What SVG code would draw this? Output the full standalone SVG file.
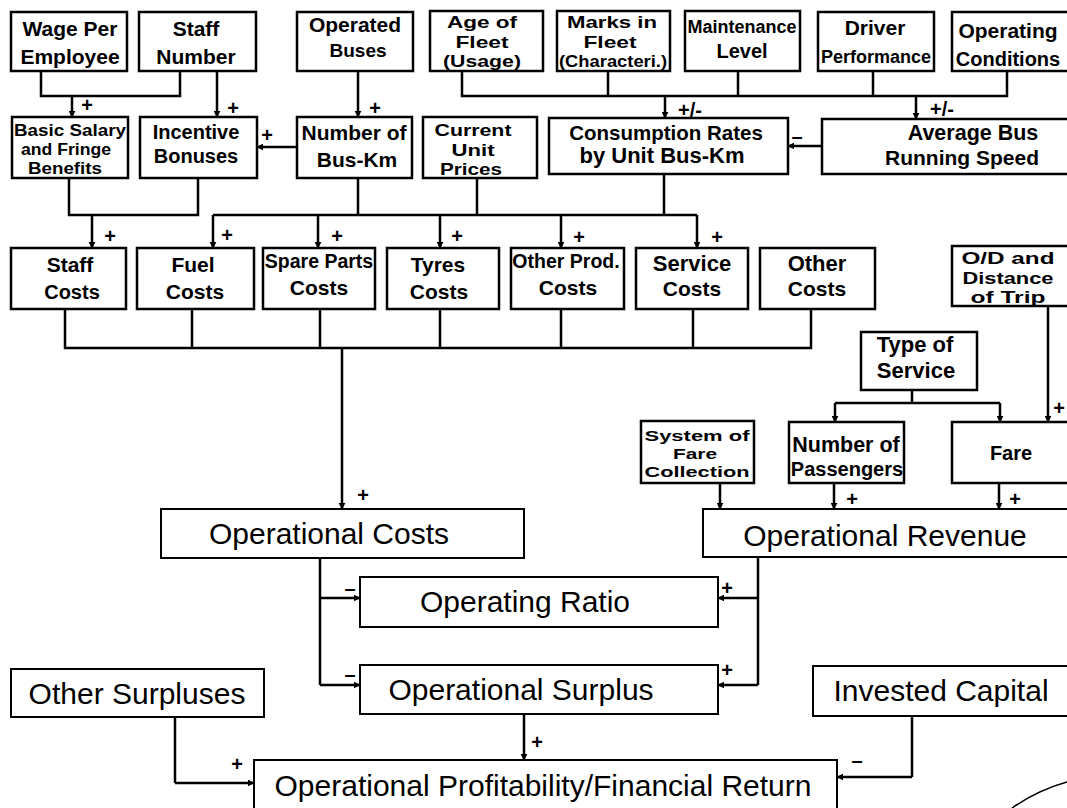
<svg xmlns="http://www.w3.org/2000/svg" width="1067" height="808" viewBox="0 0 1067 808">
<style>
.b{fill:#fff;stroke:#000;stroke-width:2.5}
.B{fill:#fff;stroke:#000;stroke-width:2}
.t{font-family:"Liberation Sans",Arial,sans-serif;font-weight:bold;text-anchor:middle;fill:#000}
.L{font-family:"Liberation Sans",Arial,sans-serif;font-weight:normal;text-anchor:middle;fill:#000;font-size:30px}
.c{fill:none;stroke:#000;stroke-width:2.5}
.a{fill:none;stroke:#000;stroke-width:2.5;marker-end:url(#ah)}
.s{font-family:"Liberation Sans",Arial,sans-serif;font-weight:bold;text-anchor:middle;fill:#000;font-size:20px}
</style>
<defs>
<marker id="ah" viewBox="0 0 10 10" refX="9" refY="5" markerWidth="7" markerHeight="7" markerUnits="userSpaceOnUse" orient="auto"><path d="M0,0 L10,5 L0,10 z" fill="#000"/></marker>
</defs>
<rect width="1067" height="808" fill="#fff"/>

<g id="connectors">
<path class="c" d="M41,71 V96 H180 V71"/>
<path class="a" d="M72,96 V117"/>
<path class="a" d="M217,71 V117"/>
<path class="a" d="M358,71 V117"/>
<path class="c" d="M462,71 V96 H1007 V71 M608,71 V96 M738,71 V96 M873,71 V96"/>
<path class="a" d="M665,96 V118"/>
<path class="a" d="M916,96 V119"/>
<path class="a" d="M297,147 H257"/>
<path class="a" d="M822,146 H788"/>
<path class="c" d="M69,178 V215 H198 V178"/>
<path class="a" d="M92,215 V248"/>
<path class="c" d="M358,178 V215 M477,178 V215 M664,174 V215 M213,215 H697"/>
<path class="a" d="M213,215 V248"/>
<path class="a" d="M318,215 V248"/>
<path class="a" d="M440,215 V248"/>
<path class="a" d="M561,215 V248"/>
<path class="a" d="M697,215 V248"/>
<path class="c" d="M65,309 V348 H811 V309 M192,309 V348 M320,309 V348 M440,309 V348 M561,309 V348 M693,309 V348"/>
<path class="a" d="M342,348 V509"/>
<path class="a" d="M1048,306 V422"/>
<path class="c" d="M912,390 V403 M835,403 H1000"/>
<path class="a" d="M835,403 V422"/>
<path class="a" d="M1000,403 V422"/>
<path class="a" d="M720,483 V509"/>
<path class="a" d="M834,483 V509"/>
<path class="a" d="M999,483 V509"/>
<path class="c" d="M320,558 V685"/>
<path class="a" d="M320,598 H360"/>
<path class="a" d="M320,685 H360"/>
<path class="c" d="M758,557 V685"/>
<path class="a" d="M758,598 H718"/>
<path class="a" d="M758,685 H718"/>
<path class="c" d="M175,717 V783"/>
<path class="a" d="M175,783 H254"/>
<path class="a" d="M524,714 V760"/>
<path class="c" d="M912,716 V777"/>
<path class="a" d="M912,777 H837"/>
<path d="M1012,808 Q1038,790 1067,782" fill="none" stroke="#000" stroke-width="1.5"/>
</g>

<g id="labels">
<text class="s" x="87" y="112">+</text>
<text class="s" x="233" y="115">+</text>
<text class="s" x="375" y="115">+</text>
<text class="s" x="690" y="117" font-size="16">+/-</text>
<text class="s" x="942" y="116" font-size="16">+/-</text>
<text class="s" x="267" y="142">+</text>
<text class="s" x="797" y="143">–</text>
<text class="s" x="110" y="243">+</text>
<text class="s" x="227" y="242">+</text>
<text class="s" x="337" y="243">+</text>
<text class="s" x="457" y="243">+</text>
<text class="s" x="579" y="244">+</text>
<text class="s" x="717" y="244">+</text>
<text class="s" x="363" y="502">+</text>
<text class="s" x="1059" y="415">+</text>
<text class="s" x="852" y="506">+</text>
<text class="s" x="1015" y="506">+</text>
<text class="s" x="350" y="595">–</text>
<text class="s" x="727" y="595">+</text>
<text class="s" x="350" y="681">–</text>
<text class="s" x="727" y="677">+</text>
<text class="s" x="537" y="749">+</text>
<text class="s" x="237" y="771">+</text>
<text class="s" x="857" y="767">–</text>
</g>

<g id="n-wage"><rect class="b" x="11" y="12" width="116" height="59"/>
<text class="t" x="70" y="36" font-size="21">Wage Per</text><text class="t" x="70" y="64" font-size="21">Employee</text></g>
<g id="n-staff"><rect class="b" x="139" y="12" width="117" height="59"/>
<text class="t" x="196" y="36" font-size="21">Staff</text><text class="t" x="196" y="64" font-size="21">Number</text></g>
<g id="n-operated"><rect class="b" x="297" y="12" width="116" height="59"/>
<text class="t" x="355" y="32" font-size="21">Operated</text><text class="t" x="358" y="57" font-size="19">Buses</text></g>
<g id="n-age"><rect class="b" x="430" y="11" width="113" height="60"/>
<text class="t" x="482" y="28" font-size="17" textLength="70" lengthAdjust="spacingAndGlyphs">Age of</text><text class="t" x="482" y="48" font-size="17" textLength="53" lengthAdjust="spacingAndGlyphs">Fleet</text><text class="t" x="482" y="67" font-size="17" textLength="78" lengthAdjust="spacingAndGlyphs">(Usage)</text></g>
<g id="n-marks"><rect class="b" x="557" y="11" width="113" height="60"/>
<text class="t" x="612" y="28" font-size="17" textLength="90" lengthAdjust="spacingAndGlyphs">Marks in</text><text class="t" x="610" y="48" font-size="17" textLength="53" lengthAdjust="spacingAndGlyphs">Fleet</text><text class="t" x="613" y="67" font-size="16" textLength="108" lengthAdjust="spacingAndGlyphs">(Characteri.)</text></g>
<g id="n-maint"><rect class="b" x="685" y="11" width="115" height="60"/>
<text class="t" x="742" y="33" font-size="18">Maintenance</text><text class="t" x="742" y="58" font-size="20">Level</text></g>
<g id="n-driver"><rect class="b" x="818" y="12" width="116" height="59"/>
<text class="t" x="875" y="35" font-size="21">Driver</text><text class="t" x="876" y="63" font-size="18">Performance</text></g>
<g id="n-opcond"><rect class="b" x="952" y="12" width="125" height="59"/>
<text class="t" x="1008" y="38" font-size="21">Operating</text><text class="t" x="1008" y="66" font-size="20">Conditions</text></g>

<g id="n-basic"><rect class="b" x="12" y="117" width="116" height="61"/>
<text class="t" x="70" y="136" font-size="16" textLength="112" lengthAdjust="spacingAndGlyphs">Basic Salary</text><text class="t" x="66" y="155" font-size="16" textLength="90" lengthAdjust="spacingAndGlyphs">and Fringe</text><text class="t" x="65" y="174" font-size="16" textLength="74" lengthAdjust="spacingAndGlyphs">Benefits</text></g>
<g id="n-incentive"><rect class="b" x="140" y="117" width="117" height="61"/>
<text class="t" x="196" y="139" font-size="20">Incentive</text><text class="t" x="196" y="163" font-size="20">Bonuses</text></g>
<g id="n-buskm"><rect class="b" x="297" y="117" width="115" height="61"/>
<text class="t" x="354" y="140" font-size="21">Number of</text><text class="t" x="357" y="167" font-size="21">Bus-Km</text></g>
<g id="n-prices"><rect class="b" x="423" y="117" width="114" height="61"/>
<text class="t" x="473" y="136" font-size="17" textLength="77" lengthAdjust="spacingAndGlyphs">Current</text><text class="t" x="473" y="156" font-size="17" textLength="43" lengthAdjust="spacingAndGlyphs">Unit</text><text class="t" x="471" y="175" font-size="17" textLength="62" lengthAdjust="spacingAndGlyphs">Prices</text></g>
<g id="n-consumption"><rect class="b" x="549" y="118" width="239" height="56"/>
<text class="t" x="666" y="140" font-size="20.5">Consumption Rates</text><text class="t" x="662" y="163" font-size="22">by Unit Bus-Km</text></g>
<g id="n-speed"><rect class="b" x="822" y="119" width="255" height="55"/>
<text class="t" x="973" y="140" font-size="21.5">Average Bus</text><text class="t" x="962" y="165" font-size="21">Running Speed</text></g>

<g id="n-staffcosts"><rect class="b" x="11" y="248" width="115" height="61"/>
<text class="t" x="70" y="272" font-size="21">Staff</text><text class="t" x="72" y="299" font-size="20">Costs</text></g>
<g id="n-fuel"><rect class="b" x="137" y="248" width="117" height="61"/>
<text class="t" x="193" y="272" font-size="21">Fuel</text><text class="t" x="195" y="299" font-size="21">Costs</text></g>
<g id="n-spare"><rect class="b" x="263" y="248" width="112" height="61"/>
<text class="t" x="319" y="268" font-size="19.5">Spare Parts</text><text class="t" x="319" y="295" font-size="21">Costs</text></g>
<g id="n-tyres"><rect class="b" x="387" y="248" width="112" height="61"/>
<text class="t" x="438" y="272" font-size="21">Tyres</text><text class="t" x="439" y="299" font-size="21">Costs</text></g>
<g id="n-otherprod"><rect class="b" x="511" y="248" width="113" height="61"/>
<text class="t" x="566" y="268" font-size="19.5">Other Prod.</text><text class="t" x="568" y="295" font-size="21">Costs</text></g>
<g id="n-service"><rect class="b" x="636" y="248" width="112" height="61"/>
<text class="t" x="692" y="271" font-size="22">Service</text><text class="t" x="692" y="296" font-size="21">Costs</text></g>
<g id="n-othercosts"><rect class="b" x="760" y="248" width="115" height="61"/>
<text class="t" x="817" y="271" font-size="22">Other</text><text class="t" x="817" y="296" font-size="21">Costs</text></g>
<g id="n-od"><rect class="b" x="952" y="246" width="125" height="60"/>
<text class="t" x="1008" y="264" font-size="17" textLength="93" lengthAdjust="spacingAndGlyphs">O/D and</text><text class="t" x="1008" y="284" font-size="17" textLength="91" lengthAdjust="spacingAndGlyphs">Distance</text><text class="t" x="1008" y="303" font-size="17" textLength="75" lengthAdjust="spacingAndGlyphs">of Trip</text></g>

<g id="n-type"><rect class="b" x="861" y="332" width="116" height="58"/>
<text class="t" x="915" y="352" font-size="22">Type of</text><text class="t" x="916" y="378" font-size="22">Service</text></g>
<g id="n-system"><rect class="b" x="641" y="421" width="113" height="62"/>
<text class="t" x="697" y="441" font-size="15.5" textLength="105" lengthAdjust="spacingAndGlyphs">System of</text><text class="t" x="695" y="459" font-size="15.5" textLength="44" lengthAdjust="spacingAndGlyphs">Fare</text><text class="t" x="697" y="477" font-size="15.5" textLength="105" lengthAdjust="spacingAndGlyphs">Collection</text></g>
<g id="n-passengers"><rect class="b" x="789" y="422" width="115" height="61"/>
<text class="t" x="846" y="452" font-size="21.5">Number of</text><text class="t" x="847" y="476" font-size="20">Passengers</text></g>
<g id="n-fare"><rect class="b" x="952" y="422" width="125" height="61"/>
<text class="t" x="1011" y="460" font-size="20">Fare</text></g>

<g id="n-opcosts"><rect class="B" x="161" y="509" width="363" height="49"/>
<text class="L" x="329" y="544" font-size="31">Operational Costs</text></g>
<g id="n-oprevenue"><rect class="B" x="703" y="509" width="374" height="48"/>
<text class="L" x="885" y="546">Operational Revenue</text></g>
<g id="n-opratio"><rect class="B" x="360" y="577" width="358" height="50"/>
<text class="L" x="525" y="612" font-size="27">Operating Ratio</text></g>
<g id="n-opsurplus"><rect class="B" x="360" y="665" width="358" height="49"/>
<text class="L" x="521" y="700" font-size="32">Operational Surplus</text></g>
<g id="n-othersurplus"><rect class="B" x="11" y="669" width="253" height="48"/>
<text class="L" x="137" y="704" font-size="32">Other Surpluses</text></g>
<g id="n-capital"><rect class="B" x="813" y="666" width="264" height="50"/>
<text class="L" x="941" y="701" font-size="32">Invested Capital</text></g>
<g id="n-profit"><rect class="B" x="254" y="760" width="583" height="70"/>
<text class="L" x="543" y="796" font-size="32">Operational Profitability/Financial Return</text></g>
</svg>
